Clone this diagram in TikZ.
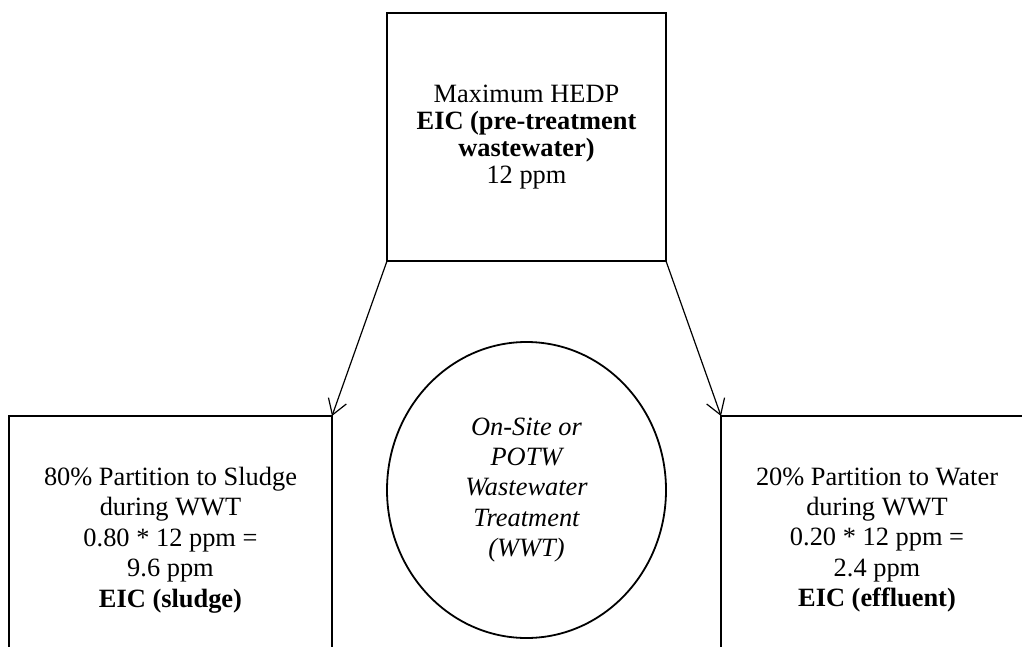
\documentclass[tikz,border=0pt]{standalone}
\usepackage{fontspec}
\setmainfont{Liberation Serif}
\usetikzlibrary{arrows.meta,shapes.geometric}
\begin{document}
\begin{tikzpicture}[x=1pt,y=-1pt,
  txt/.style={font=\fontsize{26.4}{30.4}\selectfont, align=center},
  box/.style={txt, draw, rectangle, line width=1.8pt, inner sep=0pt, outer sep=0pt},
  wwtshape/.style={txt, draw, ellipse, line width=1.8pt, inner sep=0pt, outer sep=0pt},
  arr/.style={line width=1.2pt, -{Straight Barb[length=15pt,width=19pt]}}]
\useasboundingbox (0,0) rectangle (1022,647);
\clip (0,0) rectangle (1022,647);
\node[box, font=\fontsize{26.4}{27}\selectfont, minimum width=279pt, minimum height=248pt] (top) at (526.5,137)
  {Maximum HEDP\\\textbf{EIC (pre-treatment}\\\textbf{wastewater)}\\12 ppm};
\node[box, minimum width=323pt, minimum height=248pt] (sludge) at (170.5,540)
  {80\% Partition to Sludge\\during WWT\\0.80 * 12 ppm =\\9.6 ppm\\\textbf{EIC (sludge)}};
\node[box, minimum width=312pt, minimum height=248pt] (water) at (877,540)
  {20\% Partition to Water\\during WWT\\0.20 * 12 ppm =\\2.4 ppm\\\textbf{EIC (effluent)}};
\node[wwtshape, minimum width=279pt, minimum height=296pt] (wwt) at (526.5,490)
  {\itshape On-Site or\\\itshape POTW\\\itshape Wastewater\\\itshape Treatment\\\itshape (WWT)};
\draw[arr] (top.south west) -- (sludge.north east);
\draw[arr] (top.south east) -- (water.north west);
\end{tikzpicture}
\end{document}
